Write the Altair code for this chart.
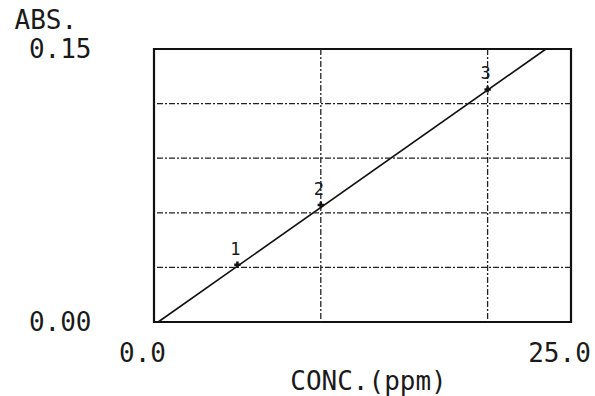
import altair as alt
import pandas as pd

# Standards
std_id = ["1", "2", "3"]
std_conc = [5.0, 10.0, 20.0]
std_abs = [0.0315, 0.0643, 0.1278]

# Calibration line end points
line_conc = [0.25, 23.5]
line_abs = [0.0, 0.15]

# Grid positions
grid_abs = [0.03, 0.06, 0.09, 0.12]
grid_conc = [10.0, 20.0]

# Axis label values
y_ticks = [0.0, 0.15]
x_ticks = [0.0, 25.0]

FONT = "DejaVu Sans Mono"
INK = "#1a1a1a"

xs = alt.Scale(domain=[0, 25], nice=False, zero=False)
ys = alt.Scale(domain=[0, 0.15], nice=False, zero=False)

std_df = pd.DataFrame({"id": std_id, "conc": std_conc, "abs": std_abs})
line_df = pd.DataFrame({"conc": line_conc, "abs": line_abs})
hgrid_df = pd.DataFrame({"abs": grid_abs})
vgrid_df = pd.DataFrame({"conc": grid_conc})

base_x = alt.X(
    "conc:Q",
    scale=xs,
    axis=alt.Axis(
        values=x_ticks,
        format=".1f",
        title="CONC.(ppm)",
        grid=False,
        domain=False,
        ticks=False,
        labelFont=FONT,
        labelFontSize=26,
        labelColor=INK,
        labelPadding=18,
        labelOffset=-12,
        labelFlush=False,
        labelBaseline="top",
        titleFont=FONT,
        titleFontSize=26,
        titleFontWeight="normal",
        titleColor=INK,
        titleX=214,
        titleY=46,
        titleBaseline="top",
    ),
)
base_y = alt.Y(
    "abs:Q",
    scale=ys,
    axis=alt.Axis(
        values=y_ticks,
        format=".2f",
        title="ABS.",
        grid=False,
        domain=False,
        ticks=False,
        labelFont=FONT,
        labelFontSize=26,
        labelColor=INK,
        labelPadding=63,
        labelFlush=False,
        labelBaseline="middle",
        titleFont=FONT,
        titleFontSize=26,
        titleFontWeight="normal",
        titleColor=INK,
        titleAngle=0,
        titleAlign="left",
        titleBaseline="top",
        titleX=-140,
        titleY=-42,
    ),
)

line = alt.Chart(line_df).mark_line(color="#111111", strokeWidth=1.6).encode(
    x=base_x, y=base_y
)

hgrid = alt.Chart(hgrid_df).mark_rule(
    color="#222222", strokeWidth=1.3, strokeDash=[6, 2, 2, 2]
).encode(y=alt.Y("abs:Q", scale=ys))

vgrid = alt.Chart(vgrid_df).mark_rule(
    color="#222222", strokeWidth=1.3, strokeDash=[6, 2, 2, 2]
).encode(x=alt.X("conc:Q", scale=xs))

pts = alt.Chart(std_df).mark_point(
    shape="cross", filled=True, color="#111111", size=40, opacity=1
).encode(x=alt.X("conc:Q", scale=xs), y=alt.Y("abs:Q", scale=ys))

labels = alt.Chart(std_df).mark_text(
    font=FONT, fontSize=17, color=INK, dy=-15, dx=-2, baseline="middle"
).encode(x=alt.X("conc:Q", scale=xs), y=alt.Y("abs:Q", scale=ys), text="id:N")

chart = (
    alt.layer(line, hgrid, vgrid, pts, labels)
    .properties(
        width=417,
        height=273,
        autosize=alt.AutoSizeParams(type="none"),
        padding={"left": 154, "top": 49, "right": 24, "bottom": 74},
        background="white",
    )
    .configure_view(stroke="#111111", strokeWidth=2.2)
)

chart.save("out.html", embed_options={"renderer": "svg", "actions": False})
